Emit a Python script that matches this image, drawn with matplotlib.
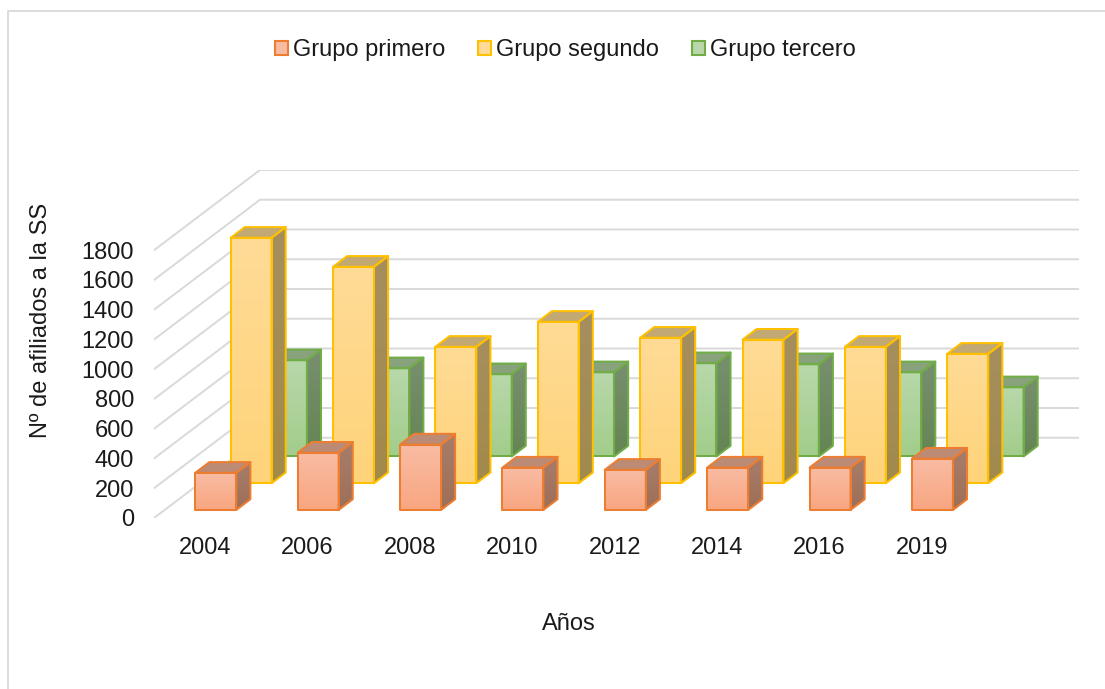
import matplotlib
matplotlib.use("Agg")
import matplotlib.pyplot as plt
import numpy as np
from matplotlib.lines import Line2D
from matplotlib.patches import Patch, Polygon

years = ["2004", "2006", "2008", "2010", "2012", "2014", "2016", "2019"]
grupo_primero = [250, 385, 440, 285, 270, 285, 285, 345]
grupo_segundo = [1650, 1455, 917, 1085, 978, 965, 917, 870]
grupo_tercero = [647, 593, 553, 566, 627, 620, 566, 465]
y_ticks = list(range(0, 2000, 200))

W, H = 1105, 689
TEXT = "#1a1a1a"
GRID = "#d9d9d9"

# oblique projection: going to the back wall shifts x and y by these (data units)
DEPTH_X = 106 / 102.4
DEPTH_Y = 80 / 0.1483
BAR_W = 0.4
BAR_D = 0.133

# (edge, front top, front bottom, side top, side bottom, top face)
STYLES = {
    "Grupo primero": ("#ed7d31", "#f8bca4", "#f9a680", "#a67d6b", "#9f6f57", "#bc8b75"),
    "Grupo segundo": ("#ffc000", "#fedb96", "#ffd379", "#a68f5f", "#a28a4c", "#c2a873"),
    "Grupo tercero": ("#70ad47", "#b8d8aa", "#a2cd8b", "#788f6f", "#658554", "#88a27c"),
}


def project(x, val, z):
    return x + DEPTH_X * z, val + DEPTH_Y * z


def gradient_face(ax, pts, top, bottom, zorder):
    # vertical gradient clipped to the polygon of the face
    pts = np.array(pts)
    c0 = np.array(matplotlib.colors.to_rgb(top))
    c1 = np.array(matplotlib.colors.to_rgb(bottom))
    grad = np.linspace(0, 1, 64)[:, None, None] * (c1 - c0) + c0
    im = ax.imshow(
        grad, aspect="auto", origin="upper", zorder=zorder, interpolation="bilinear",
        extent=(pts[:, 0].min(), pts[:, 0].max(), pts[:, 1].min(), pts[:, 1].max()),
    )
    clip = Polygon(pts, transform=ax.transData, fill=False, edgecolor="none")
    ax.add_patch(clip)
    im.set_clip_path(clip)


def draw_bar(ax, i, row, val, style, zorder):
    edge, f_top, f_bot, s_top, s_bot, top_col = style
    x0 = i + (1 - BAR_W) / 2
    x1 = x0 + BAR_W
    z0 = (row + 0.5) / 3 - BAR_D / 2
    z1 = z0 + BAR_D

    front = [project(x0, 0, z0), project(x1, 0, z0), project(x1, val, z0), project(x0, val, z0)]
    side = [project(x1, 0, z0), project(x1, 0, z1), project(x1, val, z1), project(x1, val, z0)]
    top = [project(x0, val, z0), project(x1, val, z0), project(x1, val, z1), project(x0, val, z1)]

    gradient_face(ax, front, f_top, f_bot, zorder)
    gradient_face(ax, side, s_top, s_bot, zorder)
    lw = 1.45
    ax.add_patch(Polygon(top, facecolor=top_col, edgecolor=edge, lw=lw, joinstyle="round", zorder=zorder + 0.1))
    ax.add_patch(Polygon(side, facecolor="none", edgecolor=edge, lw=lw, joinstyle="round", zorder=zorder + 0.1))
    ax.add_patch(Polygon(front, facecolor="none", edgecolor=edge, lw=lw, joinstyle="round", zorder=zorder + 0.2))


def main():
    plt.rcParams["font.family"] = ["Liberation Sans", "DejaVu Sans"]
    fs = 17

    fig = plt.figure(figsize=(W / 100, H / 100), dpi=100)
    ax = fig.add_axes([154 / W, 1 - 518 / H, (1079 - 154) / W, (518 - 170) / H])
    ax.patch.set_visible(False)
    for s in ax.spines.values():
        s.set_visible(False)

    xmax = len(years) + DEPTH_X
    ymax = y_ticks[-1] + DEPTH_Y

    # gridlines on side wall and back wall
    for v in y_ticks:
        xs, ys = zip(project(0, v, 0), project(0, v, 1), project(len(years), v, 1))
        ax.plot(xs, ys, color=GRID, lw=1.4, zorder=1, solid_joinstyle="miter")

    rows = [
        ("Grupo tercero", grupo_tercero, 2),
        ("Grupo segundo", grupo_segundo, 1),
        ("Grupo primero", grupo_primero, 0),
    ]
    zorder = 2
    for name, values, row in rows:
        for i, val in enumerate(values):
            draw_bar(ax, i, row, val, STYLES[name], zorder)
        zorder += 1

    ax.set_xlim(0, xmax)
    ax.set_ylim(0, ymax)

    ax.set_yticks(y_ticks)
    ax.set_yticklabels([str(v) for v in y_ticks], fontsize=fs, color=TEXT)
    ax.set_xticks(np.arange(len(years)) + 0.5)
    ax.set_xticklabels(years, fontsize=fs, color=TEXT)
    ax.tick_params(axis="y", length=0, pad=14.4)
    ax.tick_params(axis="x", length=0, pad=13.7)

    ax.set_xlabel("Años", fontsize=fs, color=TEXT)
    ax.xaxis.set_label_coords(569 / W, 1 - 623.5 / H, transform=fig.transFigure)
    ax.xaxis.label.set_verticalalignment("center")
    ax.set_ylabel("Nº de afiliados a la SS", fontsize=fs, color=TEXT)
    ax.yaxis.set_label_coords(41 / W, 1 - 320 / H, transform=fig.transFigure)
    ax.yaxis.label.set_verticalalignment("center")

    handles = []
    for name in ["Grupo primero", "Grupo segundo", "Grupo tercero"]:
        st = STYLES[name]
        handles.append(Patch(facecolor=st[1], edgecolor=st[0], lw=1.5, label=name))
    fig.legend(
        handles=handles, loc="center", bbox_to_anchor=(565.5 / W, 1 - 50 / H), ncol=3,
        frameon=False, fontsize=fs, handlelength=0.55, handleheight=0.55,
        handletextpad=0.2, columnspacing=1.4, labelcolor=TEXT,
    )

    # chart frame, only top and left are visible in the crop
    fig.add_artist(Line2D([7.5 / W, 7.5 / W, 1], [0, 1 - 11 / H, 1 - 11 / H], color=GRID, lw=1.3))

    fig.savefig("out.png", dpi=100)


if __name__ == "__main__":
    main()
